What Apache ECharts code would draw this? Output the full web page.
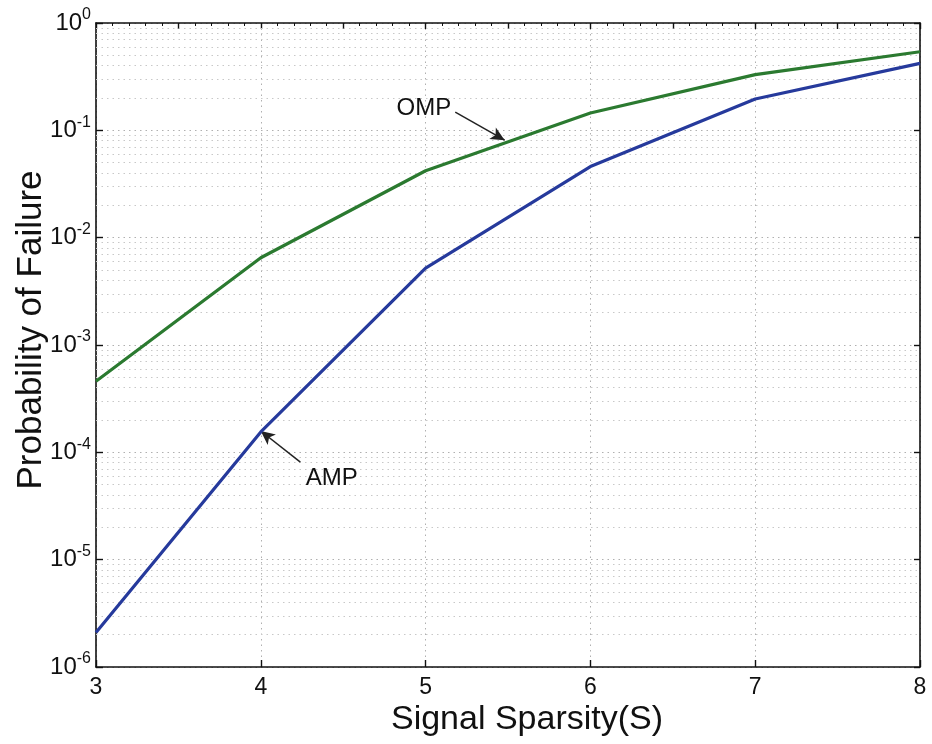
<!DOCTYPE html>
<html>
<head>
<meta charset="utf-8">
<script src="https://cdn.jsdelivr.net/npm/echarts@6/dist/echarts.min.js"></script>
<style>
  html, body { margin: 0; padding: 0; background: #fff; }
  #chart { width: 932px; height: 744px; }
</style>
</head>
<body>
<div id="chart"></div>
<script>
// Signal sparsity levels on the x axis
const sparsity = [3, 4, 5, 6, 7, 8];
// Failure probability for each recovery algorithm
const ompFailure = [4.6e-4, 6.5e-3, 0.042, 0.145, 0.33, 0.54];
const ampFailure = [2.1e-6, 1.55e-4, 5.2e-3, 0.046, 0.196, 0.42];

const FONT = 'Liberation Sans, Arial, Helvetica, sans-serif';

// minor log grid lines (2..9 x 10^k)
const minorGrid = [];
for (let k = -6; k < 0; k++) {
  for (let m = 2; m <= 9; m++) minorGrid.push({ yAxis: m * Math.pow(10, k) });
}

const chart = echarts.init(document.getElementById('chart'), null, { renderer: 'canvas' });

const axisLine = { show: true, lineStyle: { color: '#111', width: 1.6 } };
const dotted = { show: true, lineStyle: { color: '#b0b0b0', type: [1.5, 4], width: 1 } };

chart.setOption({
  animation: false,
  backgroundColor: '#fff',
  grid: { left: 96, right: 12, top: 23, bottom: 77, containLabel: false },
  xAxis: [{
    type: 'value', min: 3, max: 8, interval: 1,
    axisLine: axisLine,
    axisTick: { show: true, inside: true, length: 7, lineStyle: { color: '#111', width: 1.4 } },
    axisLabel: { color: '#111', fontSize: 23, fontFamily: FONT, margin: 9 },
    splitLine: dotted,
    name: 'Signal Sparsity(S)', nameLocation: 'middle', nameGap: 36,
    nameMoveOverlap: false,
    nameTextStyle: { color: '#111', fontSize: 34, fontFamily: FONT, padding: [0, 0, 0, 38] }
  }, {
    type: 'value', min: 3, max: 8, interval: 0.5, position: 'top',
    axisLine: axisLine,
    axisTick: { show: true, inside: true, length: 6, lineStyle: { color: '#111', width: 1.4 } },
    minorTick: { show: true, splitNumber: 5, length: 3, lineStyle: { color: '#111' } },
    axisLabel: { show: false }, splitLine: { show: false }
  }],
  yAxis: [{
    type: 'log', min: 1e-6, max: 1, logBase: 10,
    axisLine: axisLine,
    axisTick: { show: true, inside: true, length: 7, lineStyle: { color: '#111', width: 1.4 } },
    splitLine: dotted,
    axisLabel: {
      color: '#111', fontFamily: FONT, margin: 5,
      formatter: function (v) {
        const e = Math.round(Math.log10(v));
        return '{b|10}{s|' + e + '}';
      },
      rich: {
        b: { fontSize: 24, fontFamily: FONT, color: '#111', lineHeight: 28 },
        s: { fontSize: 16, fontFamily: FONT, color: '#111', padding: [0, 0, 16, 0], lineHeight: 28 }
      }
    },
    name: 'Probability of Failure', nameLocation: 'middle', nameGap: 47,
    nameMoveOverlap: false,
    nameTextStyle: { color: '#111', fontSize: 35, fontFamily: FONT, padding: [0, 0, 0, 30] }
  }, {
    type: 'log', min: 1e-6, max: 1, logBase: 10, position: 'right',
    axisLine: axisLine,
    axisTick: { show: true, inside: true, length: 6, lineStyle: { color: '#111', width: 1.4 } },
    axisLabel: { show: false }, splitLine: { show: false }
  }],
  series: [{
    name: 'grid',
    type: 'line', data: [], silent: true,
    markLine: {
      silent: true, symbol: ['none', 'none'], label: { show: false },
      precision: 12,
      lineStyle: { color: '#c8c8c8', type: [1.5, 4], width: 1 },
      data: minorGrid, animation: false
    }
  }, {
    name: 'OMP',
    type: 'line',
    data: sparsity.map((s, i) => [s, ompFailure[i]]),
    showSymbol: false,
    lineStyle: { color: '#2b7a30', width: 3.2 },
    z: 5,
    markLine: {
      silent: true, animation: false, precision: 12,
      lineStyle: { color: '#222', width: 1.5, type: 'solid' },
      symbol: ['none', 'arrow'], symbolSize: [10, 14],
      label: { show: false },
      data: [[{ coord: [5.18, 0.148] }, { coord: [5.48, 0.081] }]]
    },
    markPoint: {
      silent: true, animation: false, symbolSize: 0,
      label: { show: true, position: 'inside', color: '#111', fontSize: 24, fontFamily: FONT, formatter: 'OMP' },
      data: [{ coord: [4.99, 0.16] }]
    }
  }, {
    name: 'AMP',
    type: 'line',
    data: sparsity.map((s, i) => [s, ampFailure[i]]),
    showSymbol: false,
    lineStyle: { color: '#263a9c', width: 3.2 },
    z: 5,
    markLine: {
      silent: true, animation: false, precision: 12,
      lineStyle: { color: '#222', width: 1.5, type: 'solid' },
      symbol: ['none', 'arrow'], symbolSize: [10, 14],
      label: { show: false },
      data: [[{ coord: [4.24, 8.1e-5] }, { coord: [4.0, 1.58e-4] }]]
    },
    markPoint: {
      silent: true, animation: false, symbolSize: 0,
      label: { show: true, position: 'inside', color: '#111', fontSize: 24, fontFamily: FONT, formatter: 'AMP' },
      data: [{ coord: [4.43, 5.7e-5] }]
    }
  }]
});
</script>
</body>
</html>
